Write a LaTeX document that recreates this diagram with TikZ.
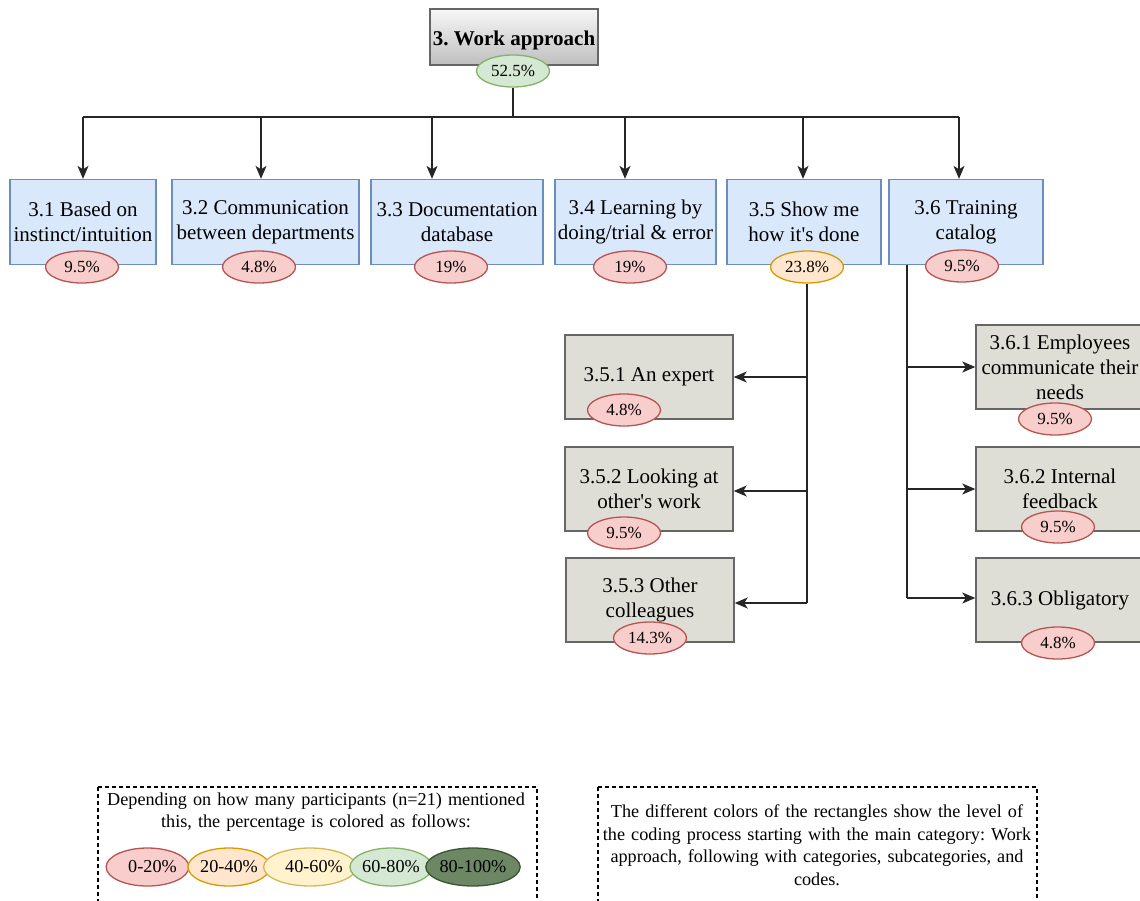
\documentclass[tikz,border=0pt]{standalone}
\usepackage{fontspec}
\setmainfont{Liberation Serif}
\usetikzlibrary{shapes.geometric,arrows.meta}
\frenchspacing

\definecolor{catfill}{HTML}{DAE8FC}
\definecolor{catline}{HTML}{6C8EBF}
\definecolor{subfill}{HTML}{DEDED6}
\definecolor{subline}{HTML}{666666}
\definecolor{redfill}{HTML}{F8CECC}
\definecolor{redline}{HTML}{B85450}
\definecolor{orgfill}{HTML}{FFE6CC}
\definecolor{orgline}{HTML}{D79B00}
\definecolor{yelfill}{HTML}{FFF2CC}
\definecolor{yelline}{HTML}{D6B656}
\definecolor{grnfill}{HTML}{D5E8D4}
\definecolor{grnline}{HTML}{82B366}
\definecolor{dgrfill}{HTML}{6D8764}
\definecolor{dgrline}{HTML}{3A5431}

\newcommand{\boxfont}{\fontsize{21}{25}\selectfont}
\newcommand{\pctfont}{\fontsize{17}{20}\selectfont}
\newcommand{\legfont}{\fontsize{18.2}{22.5}\selectfont}

\tikzset{
  mainbox/.style={draw=subline, line width=1.4pt, top color=gray!6, bottom color=gray!50,
    minimum width=168pt, minimum height=56pt, inner sep=0pt,
    font=\fontsize{21}{25}\selectfont\bfseries},
  catbox/.style={draw=catline, fill=catfill, line width=1.3pt, inner sep=0pt,
    minimum height=85pt, align=center, font=\boxfont},
  subbox/.style={draw=subline, fill=subfill, line width=1.4pt, inner sep=0pt,
    minimum width=168pt, minimum height=84pt, align=center, font=\boxfont},
  pct/.style={ellipse, line width=1.3pt, inner sep=0pt, minimum width=73pt,
    minimum height=32pt, font=\pctfont},
  low/.style={pct, draw=redline, fill=redfill},
  mid/.style={pct, draw=orgline, fill=orgfill},
  hig/.style={pct, draw=grnline, fill=grnfill},
  legpct/.style={ellipse, line width=1.3pt, inner sep=0pt, minimum width=82pt,
    minimum height=38pt, font=\legfont},
  legbox/.style={draw=black, line width=1.5pt, dash pattern=on 4pt off 3pt},
  wire/.style={draw=black!85, line width=1.3pt},
  arr/.style={wire, -{Stealth[length=13pt, width=11pt, inset=3.5pt]}}
}

\begin{document}
\begin{tikzpicture}[x=1pt, y=-1pt]
\useasboundingbox (0,0) rectangle (1140,900);

% main category
\node[mainbox] (main) at (514,37) {\raisebox{-3pt}[\height][\depth]{3. Work approach}};
\node[hig] (p0) at (513,71) {52.5\%};

% categories
\node[catbox, minimum width=146pt] (c1) at (83,222) {3.1 Based on\\instinct/intuition};
\node[catbox, minimum width=187pt] (c2) at (265.5,222) {3.2 Communication\\between departments};
\node[catbox, minimum width=172pt] (c3) at (457,222) {3.3 Documentation\\database};
\node[catbox, minimum width=161pt] (c4) at (635.5,222) {3.4 Learning by\\doing/trial \& error};
\node[catbox, minimum width=154pt] (c5) at (804,222) {3.5 Show me\\how it\textquotesingle s done};
\node[catbox, minimum width=154pt] (c6) at (966,222) {3.6 Training\\catalog};

\node[low] (pc1) at (82,267) {9.5\%};
\node[low] (pc2) at (259,267) {4.8\%};
\node[low] (pc3) at (451,267) {19\%};
\node[low] (pc4) at (630,267) {19\%};
\node[mid] (pc5) at (807,267) {23.8\%};
\node[low] (pc6) at (962,266) {9.5\%};

% subcategories of 3.5
\node[subbox] (s51) at (649,377) {3.5.1 An expert};
\node[subbox] (s52) at (649,489) {3.5.2 Looking at\\other\textquotesingle s work};
\node[subbox] (s53) at (650,600) {3.5.3 Other\\colleagues};
\node[low] (ps51) at (624,410) {4.8\%};
\node[low] (ps52) at (624,533) {9.5\%};
\node[low] (ps53) at (650,638) {14.3\%};

% subcategories of 3.6
\node[subbox] (s61) at (1060,367) {3.6.1 Employees\\communicate their\\needs};
\node[subbox] (s62) at (1060,489) {3.6.2 Internal\\feedback};
\node[subbox] (s63) at (1060,600) {3.6.3 Obligatory};
\node[low] (ps61) at (1055,419) {9.5\%};
\node[low] (ps62) at (1058,527) {9.5\%};
\node[low] (ps63) at (1058,643) {4.8\%};

% bus from the main category to the categories
\coordinate (bus) at (513,117);
\coordinate (j1) at (83,117);
\coordinate (j2) at (261,117);
\coordinate (j3) at (432,117);
\coordinate (j4) at (625,117);
\coordinate (j5) at (803,117);
\coordinate (j6) at (959,117);
\draw[wire] (p0.south) -- (bus);
\draw[wire] (j1) -- (j6);
\foreach \i in {1,...,6} {
  \draw[arr] (j\i) -- (j\i |- c\i.north);
}

% branches of 3.5
\coordinate (v5) at (807,603);
\draw[wire] (pc5.south) -- (v5);
\draw[arr] (s51.east -| v5) -- (s51.east);
\draw[arr] ([yshift=-2pt]s52.east -| v5) -- ([yshift=-2pt]s52.east);
\draw[arr] (v5) -- (v5 -| s53.east);

% branches of 3.6
\coordinate (v6) at (907,598);
\draw[wire] (c6.south -| v6) -- (v6);
\draw[arr] (s61.west -| v6) -- (s61.west);
\draw[arr] (s62.west -| v6) -- (s62.west);
\draw[arr] (v6) -- (v6 -| s63.west);

% legend: percentage colours
\draw[legbox] (98,787) rectangle (537,910);
\node[align=center, text width=440pt, font=\legfont] (legtxt) at (316,812)
  {Depending on how many participants (n=21) mentioned\\this, the percentage is colored as follows:};
\node[legpct, draw=redline, fill=redfill] (l1) at (147.5,867) {\hspace*{10pt}0-20\%};
\node[legpct, draw=orgline, fill=orgfill] (l2) at (229,867) {20-40\%};
\node[legpct, draw=yelline, fill=yelfill] (l3) at (310,867) {\hspace*{8pt}40-60\%};
\node[legpct, draw=grnline, fill=grnfill] (l4) at (391,867) {60-80\%};
\node[legpct, draw=dgrline, fill=dgrfill] (l5) at (473,867) {80-100\%};

% legend: rectangle colours
\draw[legbox] (598,787) rectangle (1037,910);
\node[align=center, text width=436pt, font=\legfont] (lvltxt) at (817,845)
  {The different colors of the rectangles show the level of\\
   the coding process starting with the main category: Work\\
   approach, following with categories, subcategories, and\\
   codes.};
\end{tikzpicture}
\end{document}
